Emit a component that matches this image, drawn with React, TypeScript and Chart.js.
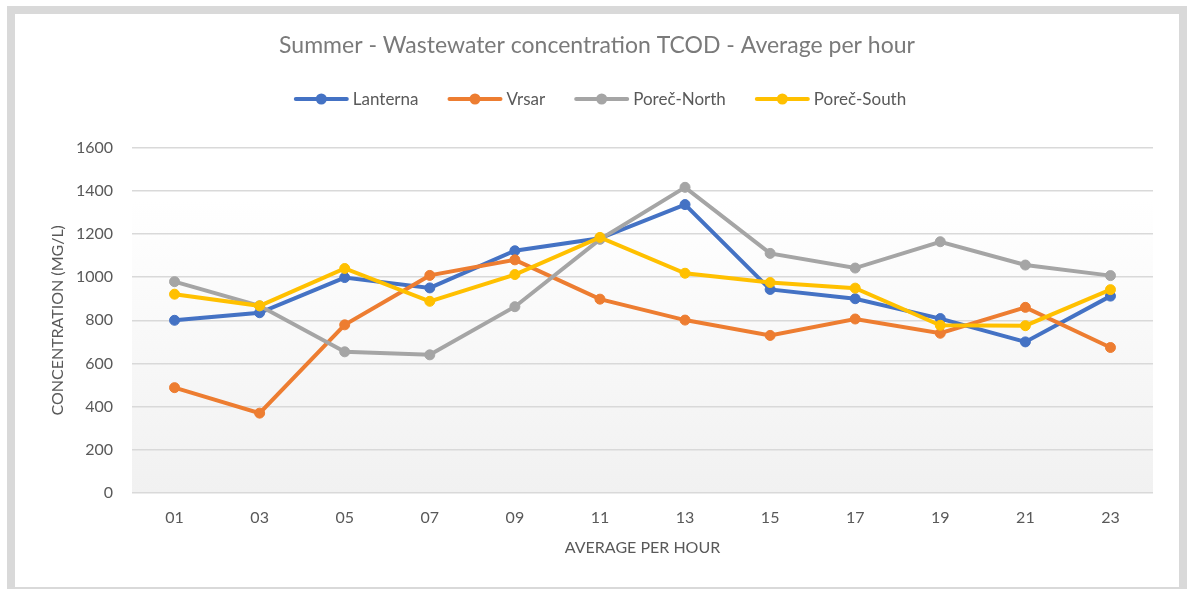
import React, { useEffect, useRef } from "react";
import { Chart, registerables } from "chart.js";

Chart.register(...registerables);

const hours: string[] = ["01", "03", "05", "07", "09", "11", "13", "15", "17", "19", "21", "23"];
const lanterna: number[] = [800, 835, 998, 950, 1122, 1180, 1336, 943, 900, 808, 700, 912];
const vrsar: number[] = [488, 370, 779, 1008, 1080, 898, 801, 730, 806, 740, 860, 674];
const porecNorth: number[] = [979, 867, 654, 640, 863, 1175, 1416, 1110, 1042, 1164, 1056, 1007];
const porecSouth: number[] = [921, 867, 1040, 888, 1012, 1184, 1018, 975, 949, 777, 775, 942];

const seriesNames: string[] = ["Lanterna", "Vrsar", "Poreč-North", "Poreč-South"];
const seriesColors: string[] = ["#4472C4", "#ED7D31", "#A5A5A5", "#FFC000"];

const yMin = 0;
const yMax = 1600;
const yStep = 200;

const FONT = "Lato";
const TEXT = "#595959";

const bgPlugin = {
  id: "plotGradient",
  beforeDraw(chart: any) {
    const { ctx, chartArea } = chart;
    if (!chartArea) return;
    const g = ctx.createLinearGradient(0, chartArea.top, 0, chartArea.bottom);
    g.addColorStop(0, "#ffffff");
    g.addColorStop(0.15, "#ffffff");
    g.addColorStop(1, "#f1f1f1");
    ctx.save();
    ctx.fillStyle = g;
    ctx.fillRect(chartArea.left, chartArea.top, chartArea.right - chartArea.left, chartArea.bottom - chartArea.top);
    ctx.restore();
  },
};

const legendPlugin = {
  id: "lineMarkerLegend",
  afterDraw(chart: any) {
    const ctx = chart.ctx;
    ctx.save();
    ctx.font = `17px ${FONT}`;
    const lineLen = 55;
    const textGap = 4;
    const itemGap = 29;
    const items = chart.data.datasets.map((ds: any) => ({
      label: ds.label,
      color: ds.borderColor,
      w: lineLen + textGap + ctx.measureText(ds.label).width,
    }));
    const total = items.reduce((s: number, it: any) => s + it.w, 0) + itemGap * (items.length - 1);
    let x = chart.width / 2 + 3 - total / 2;
    const y = 85;
    items.forEach((it: any) => {
      ctx.strokeStyle = it.color;
      ctx.lineWidth = 4;
      ctx.lineCap = "round";
      ctx.beginPath();
      ctx.moveTo(x + 2, y);
      ctx.lineTo(x + lineLen - 2, y);
      ctx.stroke();
      ctx.fillStyle = it.color;
      ctx.beginPath();
      ctx.arc(x + lineLen / 2, y, 5.5, 0, Math.PI * 2);
      ctx.fill();
      ctx.fillStyle = TEXT;
      ctx.textAlign = "left";
      ctx.textBaseline = "middle";
      ctx.fillText(it.label, x + lineLen + textGap, y + 1);
      x += it.w + itemGap;
    });
    ctx.restore();
  },
};

export default function App() {
  const ref = useRef<HTMLCanvasElement | null>(null);

  useEffect(() => {
    if (!ref.current) return;
    Chart.defaults.font.family = FONT;
    const seriesValues = [lanterna, vrsar, porecNorth, porecSouth];
    const chart = new Chart(ref.current, {
      type: "line",
      data: {
        labels: hours,
        datasets: seriesNames.map((name, i) => ({
          label: name,
          data: seriesValues[i],
          borderColor: seriesColors[i],
          backgroundColor: seriesColors[i],
          pointBackgroundColor: seriesColors[i],
          pointBorderColor: seriesColors[i],
          borderWidth: 4,
          pointRadius: 5,
          pointBorderWidth: 1,
          tension: 0,
          fill: false,
          order: seriesNames.length - i,
          yAxisID: "y",
        })),
      },
      options: {
        responsive: false,
        animation: false,
        layout: { padding: { left: 13, right: 13, top: 0, bottom: 0 } },
        plugins: {
          legend: { display: false },
          tooltip: { enabled: false },
          title: {
            display: true,
            text: "Summer - Wastewater concentration TCOD - Average per hour",
            color: "#7a7a7a",
            font: { family: FONT, size: 23, weight: "normal" },
            padding: { top: 18, bottom: 88 },
          },
        },
        scales: {
          x: {
            offset: true,
            grid: { display: false, drawTicks: false },
            border: { display: false },
            ticks: { color: TEXT, font: { family: FONT, size: 16 }, padding: 15, maxRotation: 0 },
            title: {
              display: true,
              text: "AVERAGE PER HOUR",
              color: TEXT,
              font: { family: FONT, size: 16 },
              padding: { top: 0, bottom: 30 },
            },
            afterFit(scale: any) {
              scale.height = 94;
            },
          },
          y: {
            min: yMin,
            max: yMax,
            ticks: {
              stepSize: yStep,
              color: TEXT,
              font: { family: FONT, size: 16 },
              padding: 19,
              callback: (v: any) => String(v),
            },
            grid: { color: "#d9d9d9", lineWidth: 1.5, drawTicks: false },
            border: { display: false },
            title: {
              display: true,
              text: "CONCENTRATION (MG/L)",
              color: TEXT,
              font: { family: FONT, size: 16 },
              padding: { top: 20, bottom: 0 },
            },
            afterFit(scale: any) {
              scale.width = 104;
            },
          },
          ySpacer: {
            position: "right",
            display: true,
            min: yMin,
            max: yMax,
            grid: { display: false, drawTicks: false },
            border: { display: false },
            ticks: { display: false },
            afterFit(scale: any) {
              scale.width = 13;
            },
          },
        },
      },
      plugins: [bgPlugin, legendPlugin],
    });
    return () => chart.destroy();
  }, []);

  return (
    <div
      style={{
        position: "absolute",
        left: 7,
        top: 6,
        width: 1180,
        height: 583,
        boxSizing: "border-box",
        borderStyle: "solid",
        borderColor: "#d9d9d9",
        borderWidth: "8px 8px 2px 8px",
        background: "#ffffff",
      }}
    >
      <canvas ref={ref} width={1164} height={573} style={{ display: "block" }} />
    </div>
  );
}
